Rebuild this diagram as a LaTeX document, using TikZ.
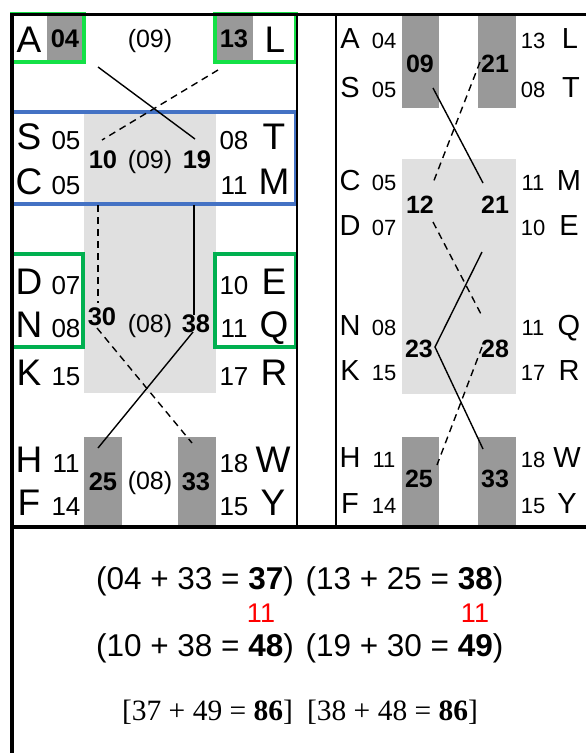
\documentclass[tikz,border=0pt]{standalone}
\usepackage{fontspec}
\setmainfont{Liberation Sans}
\newfontfamily\serifA{Liberation Serif}
\definecolor{dgray}{RGB}{153,153,153}
\definecolor{lgray}{RGB}{224,224,224}
\definecolor{bgreen}{RGB}{20,225,70}
\definecolor{dgreen}{RGB}{0,176,80}
\definecolor{fblue}{RGB}{68,114,196}
\definecolor{fred}{RGB}{255,0,0}
\tikzset{
  lab/.style={inner sep=0pt, outer sep=0pt, anchor=base},
  bigL/.style={lab, font=\fontsize{37}{37}\selectfont},
  numL/.style={lab, font=\fontsize{26}{26}\selectfont},
  boldL/.style={lab, font=\fontsize{25.5}{25.5}\selectfont\bfseries},
  parL/.style={lab, font=\fontsize{25}{25}\selectfont},
  bigR/.style={lab, font=\fontsize{29}{29}\selectfont},
  numR/.style={lab, font=\fontsize{22}{22}\selectfont},
  boldR/.style={lab, font=\fontsize{25}{25}\selectfont\bfseries},
  eqA/.style={lab, font=\fontsize{31.5}{31.5}\selectfont},
  eqR/.style={lab, font=\fontsize{27}{27}\selectfont, text=fred},
  eqS/.style={lab, font=\fontsize{29.5}{29.5}\selectfont\serifA},
  darkbox/.style={fill=dgray, draw=none},
  lightbox/.style={fill=lgray, draw=none},
  frameG/.style={draw=bgreen, line width=4.5pt},
  frameD/.style={draw=dgreen, line width=4.5pt},
  frameB/.style={draw=fblue, line width=4.5pt},
  sline/.style={draw=black, line width=1.4pt},
  dline/.style={draw=black, line width=1.4pt, dash pattern=on 7pt off 5pt},
  border/.style={draw=black, line width=3.5pt},
  thin/.style={draw=black, line width=2pt}
}
\begin{document}
\begin{tikzpicture}[x=1pt,y=-1pt]
\useasboundingbox[fill=white] (0,0) rectangle (586,753);
% ---------- backgrounds ----------
\fill[lightbox] (84,112) rectangle (216,393);
\fill[darkbox] (47,14) rectangle (82,60);
\fill[darkbox] (216,14) rectangle (253,60);
\fill[darkbox] (84,437) rectangle (122,527);
\fill[darkbox] (178,437) rectangle (216,527);
\fill[lightbox] (402,159) rectangle (516,394);
\fill[darkbox] (402,14) rectangle (439,108);
\fill[darkbox] (478,14) rectangle (516,108);
\fill[darkbox] (402,437) rectangle (439,527);
\fill[darkbox] (478,437) rectangle (516,527);
% ---------- frames ----------
\draw[frameG] (12,14) rectangle (84,62);
\draw[frameG] (215,14) rectangle (296,62);
\draw[frameB] (12,112) rectangle (296,204);
\draw[frameD] (12,254) rectangle (83,347);
\draw[frameD] (215,254) rectangle (296,347);
% ---------- borders ----------
\draw[thin] (297,14) -- (297,527);
\draw[thin] (336,14) -- (336,527);
\draw[border] (10,14.5) -- (586,14.5);
\draw[border] (12,13) -- (12,753);
\draw[border] (10,527) -- (586,527);
% ---------- left panel labels ----------
\node[bigL] (lA) at (29,52) {A};
\node[boldL] (l04) at (65,47) {04};
\node[parL] (l09a) at (150,47) {(09)};
\node[boldL] (l13) at (234,47) {13};
\node[bigL] (lL) at (275,52) {L};
\node[bigL] (lS) at (29,149) {S};
\node[numL] (lS05) at (66,149) {05};
\node[bigL] (lC) at (29,194) {C};
\node[numL] (lC05) at (66,194) {05};
\node[numL] (lT08) at (234,149) {08};
\node[bigL] (lT) at (274,149) {T};
\node[numL] (lM11) at (234,194) {11};
\node[bigL] (lM) at (274,194) {M};
\node[boldL] (l10) at (103,168) {10};
\node[parL] (l09b) at (150,168) {(09)};
\node[boldL] (l19) at (197,168) {19};
\node[bigL] (lD) at (29,294) {D};
\node[numL] (lD07) at (66,294) {07};
\node[bigL] (lN) at (29,337) {N};
\node[numL] (lN08) at (66,337) {08};
\node[bigL] (lK) at (29,385) {K};
\node[numL] (lK15) at (66,385) {15};
\node[numL] (lE10) at (234,294) {10};
\node[bigL] (lE) at (274,294) {E};
\node[numL] (lQ11) at (234,337) {11};
\node[bigL] (lQ) at (274,337) {Q};
\node[numL] (lR17) at (234,385) {17};
\node[bigL] (lR) at (274,385) {R};
\node[boldL] (l30) at (102,325) {30};
\node[parL] (l08a) at (150,332) {(08)};
\node[boldL] (l38) at (196,332) {38};
\node[bigL] (lH) at (29,472) {H};
\node[numL] (lH11) at (66,472) {11};
\node[bigL] (lF) at (29,515) {F};
\node[numL] (lF14) at (66,515) {14};
\node[numL] (lW18) at (234,472) {18};
\node[bigL] (lW) at (273,472) {W};
\node[numL] (lY15) at (234,515) {15};
\node[bigL] (lY) at (273,515) {Y};
\node[boldL] (l25) at (103,490) {25};
\node[parL] (l08b) at (150,489) {(08)};
\node[boldL] (l33) at (196,490) {33};
% ---------- right panel labels ----------
\node[bigR] (rA) at (350,48) {A};
\node[numR] (rA04) at (384,48) {04};
\node[bigR] (rS) at (350,97) {S};
\node[numR] (rS05) at (384,97) {05};
\node[numR] (rL13) at (533,48) {13};
\node[bigR] (rL) at (570,48) {L};
\node[numR] (rT08) at (533,97) {08};
\node[bigR] (rT) at (571,97) {T};
\node[boldR] (r09) at (420,72) {09};
\node[boldR] (r21a) at (495,72) {21};
\node[bigR] (rC) at (350,190) {C};
\node[numR] (rC05) at (384,190) {05};
\node[bigR] (rD) at (350,235) {D};
\node[numR] (rD07) at (384,235) {07};
\node[numR] (rM11) at (533,190) {11};
\node[bigR] (rM) at (569,190) {M};
\node[numR] (rE10) at (533,235) {10};
\node[bigR] (rE) at (569,235) {E};
\node[boldR] (r12) at (420,213) {12};
\node[boldR] (r21b) at (495,213) {21};
\node[bigR] (rN) at (350,335) {N};
\node[numR] (rN08) at (384,335) {08};
\node[bigR] (rK) at (350,380) {K};
\node[numR] (rK15) at (384,380) {15};
\node[numR] (rQ11) at (533,335) {11};
\node[bigR] (rQ) at (569,335) {Q};
\node[numR] (rR17) at (533,380) {17};
\node[bigR] (rR) at (569,380) {R};
\node[boldR] (r23) at (419,357) {23};
\node[boldR] (r28) at (495,357) {28};
\node[bigR] (rH) at (350,467) {H};
\node[numR] (rH11) at (384,467) {11};
\node[bigR] (rF) at (350,513) {F};
\node[numR] (rF14) at (384,513) {14};
\node[numR] (rW18) at (533,467) {18};
\node[bigR] (rW) at (567,467) {W};
\node[numR] (rY15) at (533,513) {15};
\node[bigR] (rY) at (567,513) {Y};
\node[boldR] (r25) at (419,487) {25};
\node[boldR] (r33) at (495,487) {33};
% ---------- connector end points ----------
\coordinate (p1) at (98,67);   \coordinate (p2) at (195,139);
\coordinate (p3) at (218,70);  \coordinate (p4) at (102,140);
\coordinate (p5) at (98,205);  \coordinate (p6) at (98,303);
\coordinate (p7) at (97,328);  \coordinate (p8) at (192,443);
\coordinate (p9) at (194,205); \coordinate (p10) at (194,315);
\coordinate (p11) at (193,332); \coordinate (p12) at (98,448);
\coordinate (q1) at (433,88);  \coordinate (q2) at (483,183);
\coordinate (q3) at (480,62);  \coordinate (q4) at (433,183);
\coordinate (q5) at (433,222); \coordinate (q6) at (482,316);
\coordinate (q7) at (482,252); \coordinate (q8) at (435,347);
\coordinate (q9) at (483,449);
\coordinate (q10) at (482,347); \coordinate (q11) at (437,465);
% ---------- connectors ----------
\draw[sline] (p1) -- (p2);
\draw[dline] (p3) -- (p4);
\draw[dline] (p5) -- (p6);
\draw[dline] (p7) -- (p8);
\draw[sline] (p9) -- (p10);
\draw[sline] (p11) -- (p12);
\draw[sline] (q1) -- (q2);
\draw[dline] (q3) -- (q4);
\draw[dline] (q5) -- (q6);
\draw[sline] (q7) -- (q8) -- (q9);
\draw[dline] (q10) -- (q11);
% ---------- bottom equations ----------
\node[eqA] (e1) at (195,589) {(04 + 33 = \textbf{37})};
\node[eqA] (e2) at (404.5,589) {(13 + 25 = \textbf{38})};
\node[eqR] (e3) at (261,622) {11};
\node[eqR] (e4) at (475,622) {11};
\node[eqA] (e5) at (195,656) {(10 + 38 = \textbf{48})};
\node[eqA] (e6) at (404.5,656) {(19 + 30 = \textbf{49})};
\node[eqS] (e7) at (207.5,720) {[37 + 49 = \textbf{86}]};
\node[eqS] (e8) at (392.5,720) {[38 + 48 = \textbf{86}]};
\end{tikzpicture}
\end{document}
